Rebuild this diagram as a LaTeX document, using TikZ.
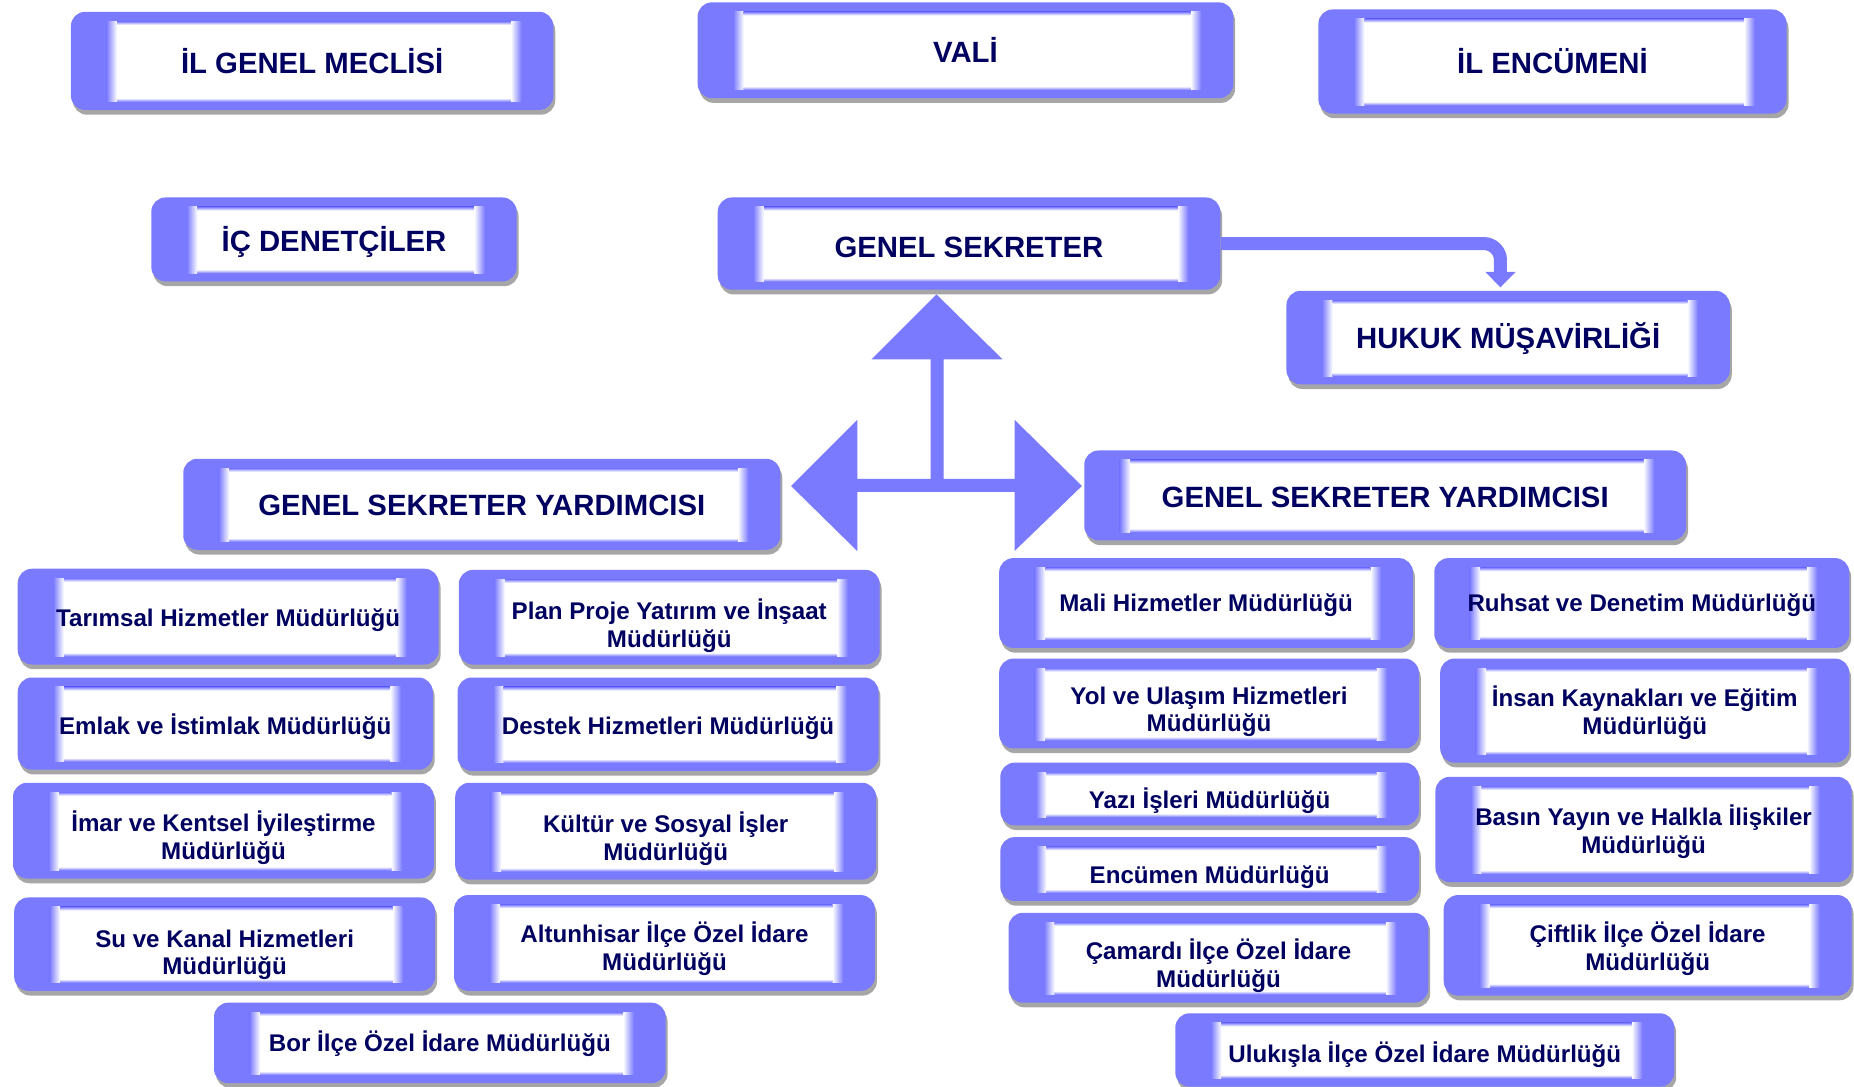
\documentclass[tikz,border=0pt]{standalone}
\usepackage{fontspec}
\setmainfont{Liberation Sans}
\usetikzlibrary{shadows,arrows.meta}
\definecolor{boxblue}{RGB}{122,122,255}
\definecolor{textnavy}{RGB}{0,0,96}
\definecolor{shadowgray}{RGB}{166,166,166}
\tikzset{
  orgbox/.style={rounded corners=6pt, fill=boxblue, inner sep=0pt,
    drop shadow={shadow xshift=0.8pt, shadow yshift=-2pt, fill=shadowgray, opacity=1},
    path picture={
      \fill[white,sharp corners] ([xshift=19.5pt,yshift=-5.5pt]path picture bounding box.north west)
        rectangle ([xshift=-18pt,yshift=5pt]path picture bounding box.south east);
      \shade[sharp corners,left color=boxblue,right color=white]
        ([xshift=15pt,yshift=-4pt]path picture bounding box.north west)
        rectangle ([xshift=19.5pt,yshift=3.5pt]path picture bounding box.south west);
      \shade[sharp corners,left color=white,right color=boxblue]
        ([xshift=-18pt,yshift=-4pt]path picture bounding box.north east)
        rectangle ([xshift=-13.5pt,yshift=3.5pt]path picture bounding box.south east);
      \shade[sharp corners,top color=boxblue,bottom color=white]
        ([xshift=19.5pt,yshift=-4pt]path picture bounding box.north west)
        rectangle ([xshift=-18pt,yshift=-5.5pt]path picture bounding box.north east);
      \shade[sharp corners,top color=white,bottom color=boxblue]
        ([xshift=19.5pt,yshift=5pt]path picture bounding box.south west)
        rectangle ([xshift=-18pt,yshift=3.5pt]path picture bounding box.south east);
    }},
  boxtext/.style={text=textnavy, align=center, inner sep=0pt},
  titletext/.style={boxtext, font=\bfseries\fontsize{12.4}{14.5}\selectfont},
  unittext/.style={boxtext, font=\bfseries\fontsize{10.2}{11.8}\selectfont},
}

\begin{document}
\begin{tikzpicture}[x=0.5pt,y=-0.5pt]
\useasboundingbox (0,0) rectangle (1568,919);
% three-way arrow between the secretary and his deputies
\fill[boxblue] (792,249) -- (848,304) -- (798,304) -- (798,405) -- (858,405) -- (858,355)
  -- (915,411) -- (858,466) -- (858,416) -- (725,416) -- (725,466) -- (669,411)
  -- (725,355) -- (725,405) -- (787,405) -- (787,304) -- (737,304) -- cycle;
% head boxes
\foreach \n/\xa/\ya/\xb/\yb/\dy/\txt in {
    meclis/60/10/468/93/0/{İL GENEL MECLİSİ},
    vali/590/2/1043/83/0/{VALİ},
    encumen/1115/8/1511/96/0/{İL ENCÜMENİ},
    ic/128/167/437/238/2/{İÇ DENETÇİLER},
    gs/607/167/1032/245/3/{GENEL SEKRETER},
    hukuk/1088/246/1463/325/1/{HUKUK MÜŞAVİRLİĞİ},
    gsya/155/388/660/465/1/{GENEL SEKRETER YARDIMCISI},
    gsyb/917/381/1426/457/2/{GENEL SEKRETER YARDIMCISI}}
  \node[orgbox,minimum width={0.5pt*(\xb-\xa)},minimum height={0.5pt*(\yb-\ya)},
    label={[titletext,yshift=-0.5pt*\dy]center:\txt}]
    (\n) at ({(\xa+\xb)/2},{(\ya+\yb)/2}) {};
% directorates
\foreach \n/\xa/\ya/\xb/\yb/\dy/\txt in {
    tar/15/481/371/562/3/{Tarımsal Hizmetler Müdürlüğü},
    eml/15/573/366/651/3/{Emlak ve İstimlak Müdürlüğü},
    imr/11/662/367/743/6/{İmar ve Kentsel İyileştirme\\Müdürlüğü},
    suk/12/759/368/838/9/{Su ve Kanal Hizmetleri\\Müdürlüğü},
    ppy/388/482/744/562/7/{Plan Proje Yatırım ve İnşaat\\Müdürlüğü},
    dst/387/573/743/652/3/{Destek Hizmetleri Müdürlüğü},
    kso/385/662/741/744/6/{Kültür ve Sosyal İşler\\Müdürlüğü},
    alt/384/757/740/838/5/{Altunhisar İlçe Özel İdare\\Müdürlüğü},
    bor/181/848/563/916/1/{Bor İlçe Özel İdare Müdürlüğü},
    mal/845/472/1195/548/2/{Mali Hizmetler Müdürlüğü},
    yol/845/557/1200/633/7/{Yol ve Ulaşım Hizmetleri\\Müdürlüğü},
    yaz/846/645/1200/698/6/{Yazı İşleri Müdürlüğü},
    enc/846/708/1200/762/7/{Encümen Müdürlüğü},
    cam/853/772/1208/848/7/{Çamardı İlçe Özel İdare\\Müdürlüğü},
    ruh/1213/472/1564/548/2/{Ruhsat ve Denetim Müdürlüğü},
    ins/1218/557/1564/645/2/{İnsan Kaynakları ve Eğitim\\Müdürlüğü},
    bas/1214/657/1566/746/2/{Basın Yayın ve Halkla İlişkiler\\Müdürlüğü},
    cif/1221/757/1566/842/3/{Çiftlik İlçe Özel İdare\\Müdürlüğü},
    ulu/994/857/1416/919/4/{Ulukışla İlçe Özel İdare Müdürlüğü}}
  \node[orgbox,minimum width={0.5pt*(\xb-\xa)},minimum height={0.5pt*(\yb-\ya)},
    label={[unittext,yshift=-0.5pt*\dy]center:\txt}]
    (\n) at ({(\xa+\xb)/2},{(\ya+\yb)/2}) {};
% legal counsel link
\coordinate (hk) at (1269,243);
\draw[boxblue,line width=5.5pt,rounded corners=7pt,-{Triangle[width=12.5pt,length=6.5pt]}]
  (gs.east) -| (hk);
\end{tikzpicture}
\end{document}
